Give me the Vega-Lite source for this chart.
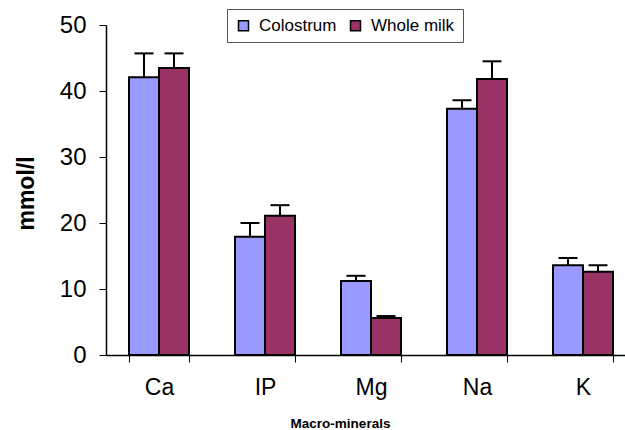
{
  "$schema": "https://vega.github.io/schema/vega-lite/v6.json",
  "width": 519,
  "height": 330,
  "autosize": {"type": "none"},
  "padding": {"left": 106, "top": 25, "right": 0, "bottom": 75},
  "config": {"view": {"stroke": null}, "font": "Liberation Sans"},
  "data": {
    "values": [
      {"mineral": "Ca", "series": "Colostrum", "value": 42.1, "upper": 45.7},
      {"mineral": "Ca", "series": "Whole milk", "value": 43.5, "upper": 45.7},
      {"mineral": "IP", "series": "Colostrum", "value": 17.9, "upper": 20.0},
      {"mineral": "IP", "series": "Whole milk", "value": 21.1, "upper": 22.7},
      {"mineral": "Mg", "series": "Colostrum", "value": 11.2, "upper": 12.0},
      {"mineral": "Mg", "series": "Whole milk", "value": 5.6, "upper": 5.9},
      {"mineral": "Na", "series": "Colostrum", "value": 37.3, "upper": 38.6},
      {"mineral": "Na", "series": "Whole milk", "value": 41.8, "upper": 44.5},
      {"mineral": "K", "series": "Colostrum", "value": 13.6, "upper": 14.7},
      {"mineral": "K", "series": "Whole milk", "value": 12.6, "upper": 13.6}
    ]
  },
  "encoding": {
    "x": {
      "field": "mineral",
      "type": "nominal",
      "sort": ["Ca", "IP", "Mg", "Na", "K"],
      "scale": {"range": [0, 530], "paddingInner": 0.434, "paddingOuter": 0.217},
      "axis": {
        "title": "Macro-minerals",
        "titleFontSize": 13.5,
        "titleFontWeight": "bold",
        "titleColor": "black",
        "titleX": 234,
        "titleY": 72,
        "titleBaseline": "alphabetic",
        "labelAngle": 0,
        "labelFontSize": 23,
        "labelColor": "black",
        "labelPadding": 14,
        "tickBand": "extent",
        "tickSize": 7,
        "tickColor": "black",
        "domainColor": "black",
        "domainWidth": 1.5
      }
    },
    "xOffset": {
      "field": "series",
      "type": "nominal",
      "sort": ["Colostrum", "Whole milk"],
      "scale": {"paddingInner": 0, "paddingOuter": 0}
    }
  },
  "layer": [
    {
      "mark": {"type": "bar", "stroke": "black", "strokeWidth": 2},
      "encoding": {
        "y": {
          "field": "value",
          "type": "quantitative",
          "scale": {"domain": [0, 50]},
          "axis": {
            "title": "mmol/l",
            "titleFontSize": 23,
            "titleFontWeight": "bold",
            "titleColor": "black",
            "titleX": -80,
            "titleY": 168,
            "titleAlign": "center",
            "titleBaseline": "middle",
            "titleAngle": -90,
            "values": [0, 10, 20, 30, 40, 50],
            "labelFontSize": 24,
            "labelColor": "black",
            "labelPadding": 13,
            "tickSize": 7,
            "tickColor": "black",
            "domainColor": "black",
            "domainWidth": 1.5,
            "grid": false
          }
        },
        "color": {
          "field": "series",
          "type": "nominal",
          "scale": {"domain": ["Colostrum", "Whole milk"], "range": ["#9999FF", "#993366"]},
          "legend": {
            "title": null,
            "orient": "none",
            "legendX": 121,
            "legendY": -16,
            "direction": "horizontal",
            "symbolType": "square",
            "symbolSize": 100,
            "symbolStrokeColor": "black",
            "symbolStrokeWidth": 1.5,
            "symbolOpacity": 1,
            "labelFontSize": 17,
            "labelColor": "black",
            "labelOffset": 7,
            "columnPadding": 10,
            "padding": 8,
            "strokeColor": "#555555",
            "fillColor": "white"
          }
        }
      }
    },
    {
      "mark": {"type": "rule", "color": "black", "strokeWidth": 2},
      "encoding": {
        "y": {"field": "value", "type": "quantitative"},
        "y2": {"field": "upper"}
      }
    },
    {
      "mark": {"type": "tick", "color": "black", "size": 19, "thickness": 2, "opacity": 1},
      "encoding": {
        "y": {"field": "upper", "type": "quantitative"}
      }
    }
  ]
}
